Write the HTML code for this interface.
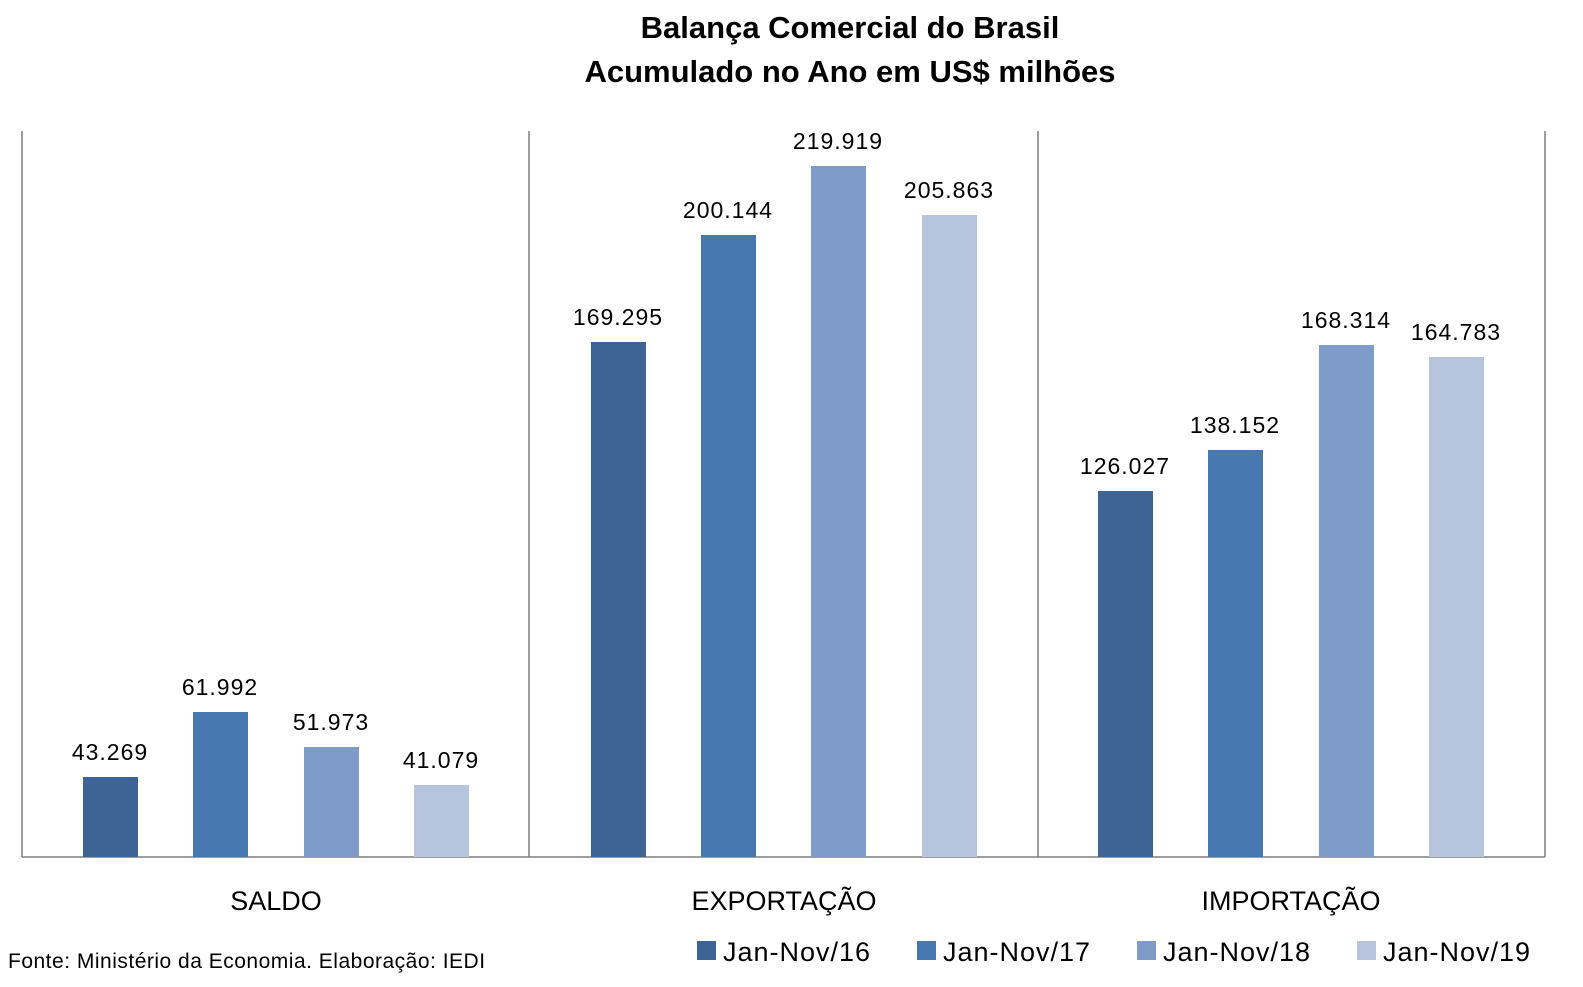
<!DOCTYPE html>
<html><head><meta charset="utf-8"><style>
html,body{margin:0;padding:0;background:#fff;}
svg{display:block;font-family:"Liberation Sans",Arial,sans-serif;}
</style></head><body>
<svg width="1583" height="987" viewBox="0 0 1583 987" xmlns="http://www.w3.org/2000/svg">
<rect width="1583" height="987" fill="#fff"/>
<g font-weight="bold" font-size="31" text-anchor="middle" fill="#000">
<text x="850" y="38">Balança Comercial do Brasil</text>
<text x="850" y="82">Acumulado no Ano em US$ milhões</text>
</g>
<g stroke="#7f7f7f" stroke-width="1.5">
<line x1="22" y1="131" x2="22" y2="857"/>
<line x1="529" y1="131" x2="529" y2="857"/>
<line x1="1038" y1="131" x2="1038" y2="857"/>
<line x1="1545" y1="131" x2="1545" y2="857"/>
<line x1="22" y1="857" x2="1545" y2="857"/>
</g>
<g>
<rect x="83" y="777" width="55" height="80" fill="#3d6494"/>
<rect x="193" y="712" width="55" height="145" fill="#4878b0"/>
<rect x="304" y="747" width="55" height="110" fill="#7f9cc8"/>
<rect x="414" y="785" width="55" height="72" fill="#b7c4de"/>
<rect x="591" y="342" width="55" height="515" fill="#3d6494"/>
<rect x="701" y="235" width="55" height="622" fill="#4878b0"/>
<rect x="811" y="166" width="55" height="691" fill="#7f9cc8"/>
<rect x="922" y="215" width="55" height="642" fill="#b7c4de"/>
<rect x="1098" y="491" width="55" height="366" fill="#3d6494"/>
<rect x="1208" y="450" width="55" height="407" fill="#4878b0"/>
<rect x="1319" y="345" width="55" height="512" fill="#7f9cc8"/>
<rect x="1429" y="357" width="55" height="500" fill="#b7c4de"/>
</g>
<g font-size="23" letter-spacing="1" text-anchor="middle" fill="#000">
<text x="110" y="760">43.269</text>
<text x="220" y="695">61.992</text>
<text x="331" y="730">51.973</text>
<text x="441" y="768">41.079</text>
<text x="618" y="325">169.295</text>
<text x="728" y="218">200.144</text>
<text x="838" y="149">219.919</text>
<text x="949" y="198">205.863</text>
<text x="1125" y="474">126.027</text>
<text x="1235" y="433">138.152</text>
<text x="1346" y="328">168.314</text>
<text x="1456" y="340">164.783</text>
</g>
<g font-size="27" text-anchor="middle" fill="#000">
<text x="276" y="910">SALDO</text>
<text x="784" y="910">EXPORTAÇÃO</text>
<text x="1291" y="910">IMPORTAÇÃO</text>
</g>
<text x="8" y="968" font-size="21" letter-spacing="0.5" fill="#000">Fonte: Ministério da Economia. Elaboração: IEDI</text>
<g font-size="27" letter-spacing="1" fill="#000">
<rect x="697" y="941" width="19" height="19" fill="#3d6494"/><text x="723" y="961">Jan-Nov/16</text>
<rect x="917" y="941" width="19" height="19" fill="#4878b0"/><text x="943" y="961">Jan-Nov/17</text>
<rect x="1137" y="941" width="19" height="19" fill="#7f9cc8"/><text x="1163" y="961">Jan-Nov/18</text>
<rect x="1357" y="941" width="19" height="19" fill="#b7c4de"/><text x="1383" y="961">Jan-Nov/19</text>
</g>
</svg>
</body></html>
